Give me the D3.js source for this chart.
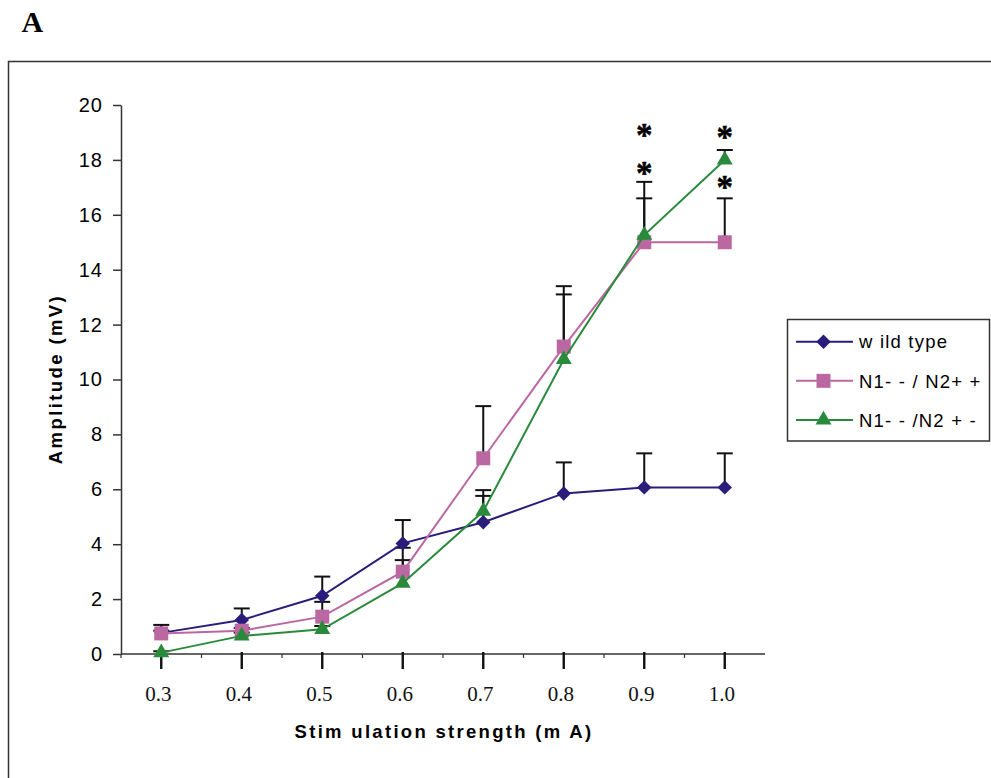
<!DOCTYPE html>
<html><head><meta charset="utf-8">
<script src="https://cdn.jsdelivr.net/npm/d3@7"></script>
<style>body{margin:0;background:#fff;} svg{display:block;}</style>
</head><body><svg id="chart" width="991" height="778"></svg>
<script>
// ---- data ----
const categories = ["0.3","0.4","0.5","0.6","0.7","0.8","0.9","1.0"];
const yTicks = [0,2,4,6,8,10,12,14,16,18,20];
const seriesNames = ["w ild type","N1- - / N2+ +","N1- - /N2 + -"];
const wildType    = [0.77,1.24,2.12,4.03,4.80,5.85,6.07,6.07];
const wildTypeErr = [0.29,0.42,0.70,0.85,1.17,1.13,1.24,1.24];
const n2pp        = [0.75,0.85,1.36,3.00,7.13,11.20,15.00,15.00];
const n2ppErr     = [0.10,0.10,0.54,0.87,1.90,2.20,1.60,1.60];
const n2pm        = [0.05,0.66,0.90,2.58,5.20,10.73,15.26,18.00];
const n2pmErr     = [0.05,0.12,0.12,0.84,0.56,2.37,1.94,0.36];
const sigCategories = ["0.9","0.9","1.0","1.0"];
const sigLevels     = [17.68,19.05,17.16,18.98];
const panelLabel = "A";
const xTitle = "Stim ulation strength (m A)";
const yTitle = "Amplitude (mV)";

// ---- setup ----
const svg = d3.select("#chart");
const colors = ["#2a1c7a","#bb68a2","#2a8a3c"];
const symbols = [d3.symbolSquare, d3.symbolSquare, d3.symbolTriangle];
const symSizes = [105, 196, 110];
const symRot = [45, 0, 0];
const series = [
  {name: seriesNames[0], values: wildType, err: wildTypeErr},
  {name: seriesNames[1], values: n2pp, err: n2ppErr},
  {name: seriesNames[2], values: n2pm, err: n2pmErr}
];

const x = d3.scaleBand().domain(categories).range([121,765]).padding(0);
const bw = x.bandwidth();
const cx = c => x(c) + bw/2;
const y = d3.scaleLinear().domain([0,20]).range([654,105]);

// outer frame
svg.append("rect").attr("x",8.5).attr("y",61.5).attr("width",1200).attr("height",1000)
  .attr("fill","none").attr("stroke","#333").attr("stroke-width",1.5);

// panel label
svg.append("text").attr("x",21.5).attr("y",31.5).text(panelLabel)
  .attr("font-family","'Liberation Serif','Times New Roman',serif").attr("font-weight","bold")
  .attr("font-size",30).attr("fill","#000");

// y axis
const yAxis = svg.append("g").attr("transform","translate(121,0)")
  .call(d3.axisLeft(y).tickValues(yTicks).tickSize(8).tickSizeOuter(0).tickPadding(10));
yAxis.select(".domain").attr("stroke","#333").attr("stroke-width",1.5);
yAxis.selectAll(".tick line").attr("stroke","#333").attr("stroke-width",1.5);
yAxis.selectAll(".tick text").attr("font-family","'Liberation Sans',Arial,sans-serif")
  .attr("font-size",20).attr("letter-spacing",1).attr("fill","#000");

// x axis (custom)
const xg = svg.append("g");
xg.append("line").attr("x1",x.range()[0]).attr("x2",x.range()[1]).attr("y1",y(0)).attr("y2",y(0))
  .attr("stroke","#333").attr("stroke-width",1.5);
xg.selectAll(".minor").data(categories).join("line").attr("class","minor")
  .attr("x1",d=>x(d)).attr("x2",d=>x(d)).attr("y1",y(0)).attr("y2",y(0)+4)
  .attr("stroke","#333").attr("stroke-width",1.2);
xg.selectAll(".major").data(categories).join("line").attr("class","major")
  .attr("x1",cx).attr("x2",cx).attr("y1",y(0)-2).attr("y2",y(0)+15)
  .attr("stroke","#111").attr("stroke-width",2.4);
xg.selectAll(".lbl").data(categories).join("text").attr("class","lbl")
  .attr("x",d=>cx(d)-3).attr("y",701).attr("text-anchor","middle").text(d=>d)
  .attr("font-family","'Liberation Serif','Times New Roman',serif").attr("font-size",21).attr("fill","#111");

// axis titles
svg.append("text").attr("x",444).attr("y",738).attr("text-anchor","middle").text(xTitle)
  .attr("font-family","'Liberation Sans',Arial,sans-serif").attr("font-weight","bold")
  .attr("font-size",18.5).attr("letter-spacing",2.3).attr("fill","#000");
svg.append("text").attr("transform","translate(61.5,379) rotate(-90)").attr("text-anchor","middle").text(yTitle)
  .attr("font-family","'Liberation Sans',Arial,sans-serif").attr("font-weight","bold")
  .attr("font-size",18.5).attr("letter-spacing",2.4).attr("fill","#000");

// error bars
const eg = svg.append("g");
series.forEach(s => {
  categories.forEach((c,i) => {
    const top = y(s.values[i] + s.err[i]);
    eg.append("line").attr("x1",cx(c)).attr("x2",cx(c)).attr("y1",y(s.values[i])).attr("y2",top)
      .attr("stroke","#111").attr("stroke-width",2);
    eg.append("line").attr("x1",cx(c)-8).attr("x2",cx(c)+8).attr("y1",top).attr("y2",top)
      .attr("stroke","#111").attr("stroke-width",2);
  });
});

// lines + markers
const line = d3.line().x((d,i)=>cx(categories[i])).y(d=>y(d));
series.forEach((s,k) => {
  svg.append("path").datum(s.values).attr("d",line).attr("fill","none")
    .attr("stroke",colors[k]).attr("stroke-width",2);
  svg.append("g").selectAll("path").data(s.values).join("path")
    .attr("d", d3.symbol(symbols[k], symSizes[k]))
    .attr("transform",(d,i)=>`translate(${cx(categories[i])},${y(d)}) rotate(${symRot[k]})`)
    .attr("fill",colors[k]);
});

// significance asterisks
svg.selectAll(".sig").data(sigCategories).join("text").attr("class","sig")
  .attr("x",d=>cx(d)).attr("y",(d,i)=>y(sigLevels[i])+15).attr("text-anchor","middle").text("*")
  .attr("font-family","'Liberation Serif','Times New Roman',serif").attr("font-weight","bold")
  .attr("font-size",33).attr("fill","#000").attr("stroke","#000").attr("stroke-width",0.5);

// legend
const lg = svg.append("g");
lg.append("rect").attr("x",787.5).attr("y",319.5).attr("width",202).attr("height",121.5)
  .attr("fill","#fff").attr("stroke","#333").attr("stroke-width",1.5);
const ly = d3.scalePoint().domain(seriesNames).range([341.7,420]);
series.forEach((s,k) => {
  const yy = ly(s.name);
  lg.append("line").attr("x1",796).attr("x2",853).attr("y1",yy).attr("y2",yy)
    .attr("stroke",colors[k]).attr("stroke-width",2);
  lg.append("path").attr("d",d3.symbol(symbols[k], symSizes[k]))
    .attr("transform",`translate(823.5,${yy}) rotate(${symRot[k]})`).attr("fill",colors[k]);
  lg.append("text").attr("x",859).attr("y",yy+6.7).text(s.name)
    .attr("font-family","'Liberation Sans',Arial,sans-serif").attr("font-size",18.5)
    .attr("letter-spacing",1.2).attr("fill","#000");
});
</script></body></html>
